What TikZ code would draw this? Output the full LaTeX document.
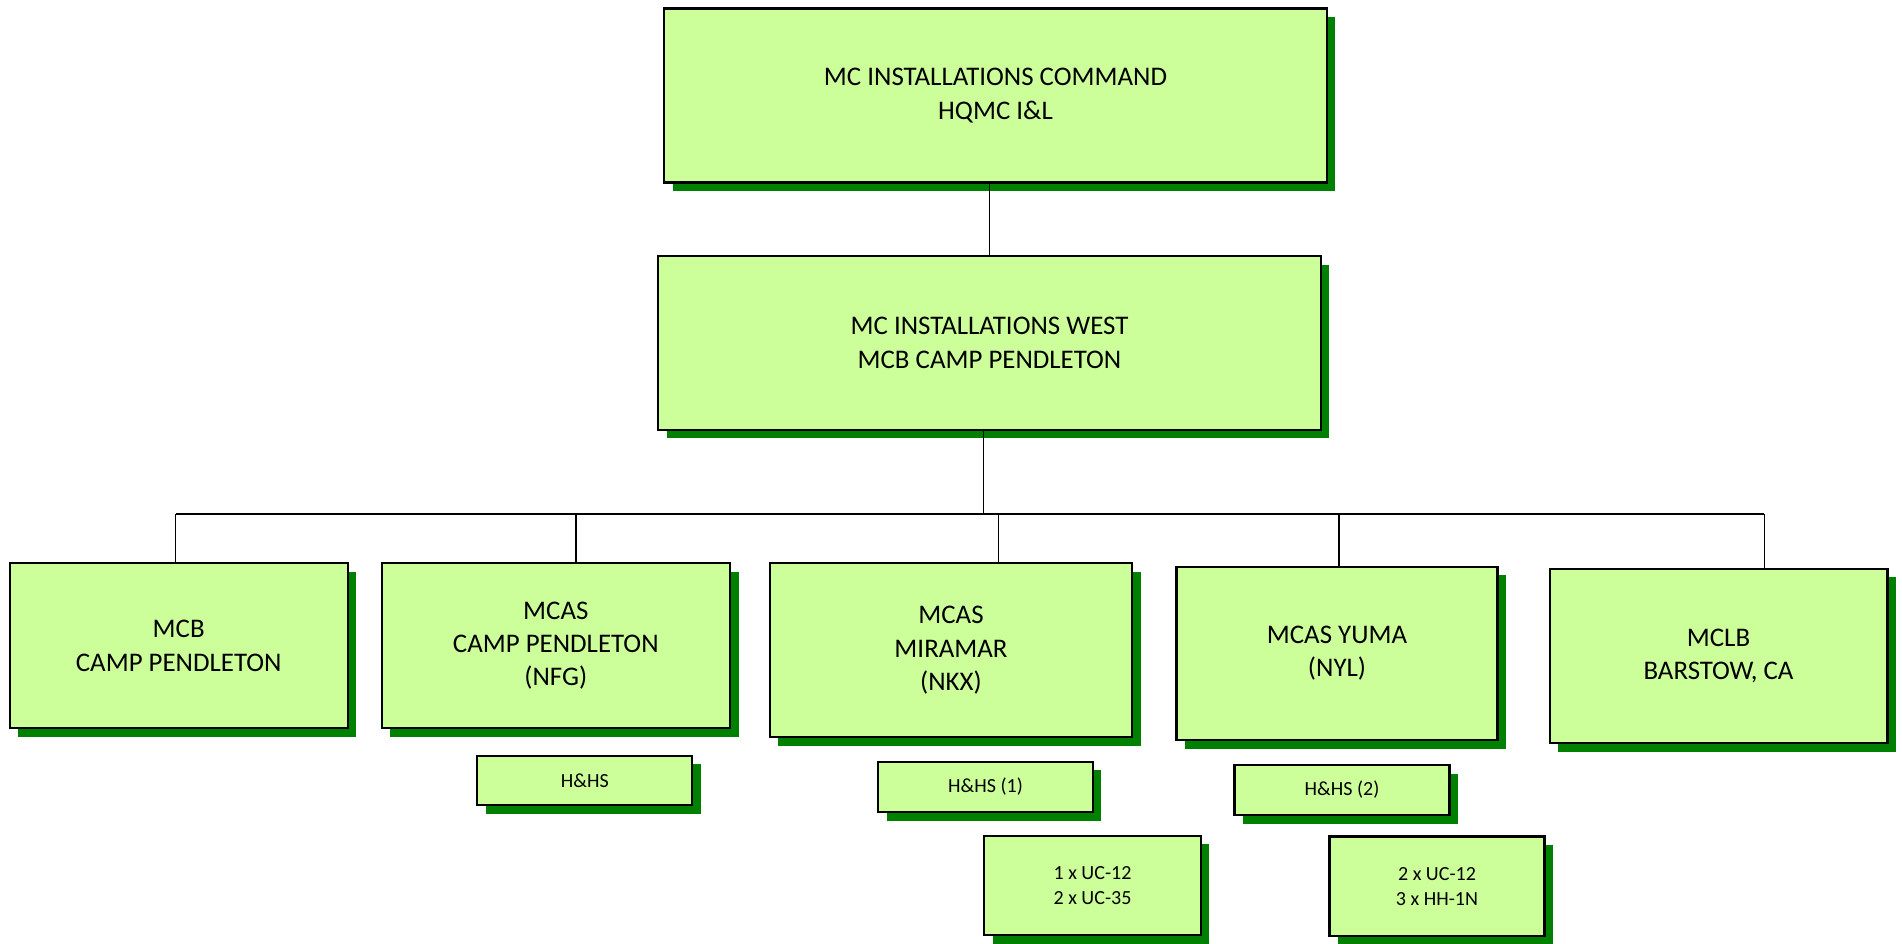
\documentclass[tikz,border=0pt]{standalone}
\usepackage{fontspec}
\setmainfont{Carlito}
\usetikzlibrary{shadows}
\definecolor{boxgreen}{HTML}{CCFF99}
\definecolor{shadowgreen}{HTML}{008000}
\begin{document}
\begin{tikzpicture}[
    x=0.02cm, y=-0.02cm,
    every node/.style={font=\fontsize{15.3}{19}\selectfont},
    box/.style={draw=black, line width=1.2pt, fill=boxgreen, align=center, inner sep=0pt,
      drop shadow={fill=shadowgreen, opacity=1, shadow xshift=0.17cm, shadow yshift=-0.17cm}},
    command/.style={box, minimum width=13.26cm, minimum height=3.48cm},
    unit/.style={box, minimum height=3.3cm},
    sub/.style={box, font=\fontsize{11.4}{14.2}\selectfont, minimum width=4.3cm},
    link/.style={draw=black, line width=0.8pt}
  ]
    \useasboundingbox (0,0) rectangle (1902,943);

    \node[command] (cmd) at (995.5,95.5) {MC INSTALLATIONS COMMAND\\HQMC I\&L};
    \node[command] (west) at (989.5,343) {MC INSTALLATIONS WEST\\MCB CAMP PENDLETON};

    \node[unit, minimum width=6.76cm] (mcb) at (178.7,645.7) {MCB\\CAMP PENDLETON};
    \node[unit, minimum width=6.97cm] (cpen) at (555.8,645.7) {MCAS\\CAMP PENDLETON\\(NFG)};
    \node[unit, minimum width=7.25cm, minimum height=3.48cm] (mira) at (951,650.3) {MCAS\\MIRAMAR\\(NKX)};
    \node[unit, minimum width=6.42cm, minimum height=3.47cm] (yuma) at (1337,653.3) {MCAS YUMA\\(NYL)};
    \node[unit, minimum width=6.76cm, minimum height=3.49cm] (mclb) at (1718.5,655.8) {MCLB\\BARSTOW, CA};

    \node[sub, minimum height=0.99cm] (cpenhhs) at (584.8,780.5) {H\&HS};
    \node[sub, minimum height=1.01cm] (mirahhs) at (985.5,786.8) {H\&HS (1)};
    \node[sub, minimum height=1cm] (yumahhs) at (1342,790) {H\&HS (2)};
    \node[sub, minimum width=4.34cm, minimum height=1.99cm] (miraac) at (1092.5,885.5) {1 x UC-12\\2 x UC-35};
    \node[sub, minimum height=1.99cm] (yumaac) at (1437,886.2) {2 x UC-12\\3 x HH-1N};

    \coordinate (hub) at (983.5,514);
    \coordinate (b1) at (175.5,514);
    \coordinate (b2) at (576,514);
    \coordinate (b3) at (998.5,514);
    \coordinate (b4) at (1339,514);
    \coordinate (b5) at (1764.4,514);

    \draw[link] (west.north) -- (west.north |- cmd.south);
    \draw[link] (hub |- west.south) -- (hub);
    \draw[link] (b1) -- (b5);
    \draw[link] (b1) -- (b1 |- mcb.north);
    \draw[link] (b2) -- (b2 |- cpen.north);
    \draw[link] (b3) -- (b3 |- mira.north);
    \draw[link] (b4) -- (b4 |- yuma.north);
    \draw[link] (b5) -- (b5 |- mclb.north);
  \end{tikzpicture}
\end{document}
